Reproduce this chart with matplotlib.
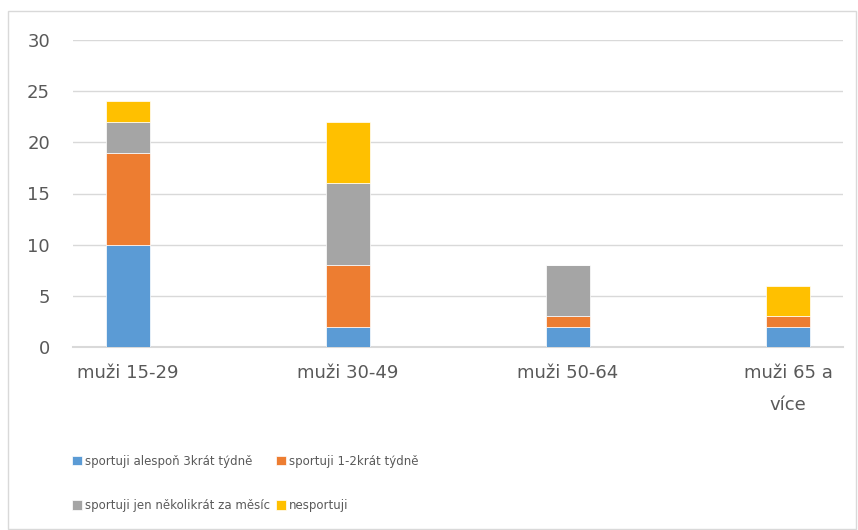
import matplotlib
matplotlib.use("Agg")
import matplotlib.pyplot as plt
from matplotlib.patches import Rectangle
import numpy as np

categories = ["muži 15-29", "muži 30-49", "muži 50-64", "muži 65 a\nvíce"]
series_names = ["sportuji alespoň 3krát týdně", "sportuji 1-2krát týdně",
                "sportuji jen několikrát za měsíc", "nesportuji"]
s_3x = [10, 2, 2, 2]
s_12x = [9, 6, 1, 1]
s_month = [3, 8, 5, 0]
s_none = [2, 6, 0, 3]
colors = ["#5B9BD5", "#ED7D31", "#A5A5A5", "#FFC000"]
yticks = [0, 5, 10, 15, 20, 25, 30]

W, H = 858, 530
fig = plt.figure(figsize=(W / 100, H / 100), dpi=100)
fig.patches.append(Rectangle((8 / W, 1 / H), (W - 10) / W, (H - 12) / H,
                             transform=fig.transFigure, fill=False,
                             edgecolor="#D9D9D9", linewidth=1.0))

ax = fig.add_axes([73 / W, 1 - 347 / H, (843 - 73) / W, (347 - 40) / H])
x = np.arange(len(categories))
bottom = np.zeros(len(categories))
handles = []
for vals, c, name in zip([s_3x, s_12x, s_month, s_none], colors, series_names):
    b = ax.bar(x, vals, width=0.2, bottom=bottom, color=c, label=name,
               edgecolor="white", linewidth=0.5, zorder=3)
    handles.append(b)
    bottom += np.array(vals)

ax.set_xlim(-0.25, 3.25)
ax.set_ylim(0, 30)
ax.set_yticks(yticks)
ax.set_yticklabels([str(v) for v in yticks])
ax.set_xticks(x)
ax.set_xticklabels(categories, linespacing=2.05)
ax.grid(axis="y", color="#D9D9D9", linewidth=1.0, zorder=0)
ax.axhline(0, color="#D9D9D9", linewidth=1.5, zorder=2, clip_on=False)
for s in ax.spines.values():
    s.set_visible(False)
ax.tick_params(axis="both", length=0, labelsize=13, colors="#595959")
ax.tick_params(axis="y", pad=16.5)
ax.tick_params(axis="x", pad=12)
for lab in ax.get_xticklabels():
    lab.set_verticalalignment("top")

order = [0, 2, 1, 3]
leg = fig.legend([handles[i] for i in order], [series_names[i] for i in order],
                 ncol=2, loc="upper left", bbox_to_anchor=(61 / W, 1 - 444 / H),
                 frameon=False, handlelength=0.85, handleheight=0.85,
                 handletextpad=0.3, columnspacing=0.45, labelspacing=2.65,
                 prop={"family": ["DejaVu Sans Condensed", "Liberation Sans Narrow", "DejaVu Sans"], "size": 8.5})
for t in leg.get_texts():
    t.set_color("#595959")

fig.savefig("out.png", dpi=100)
